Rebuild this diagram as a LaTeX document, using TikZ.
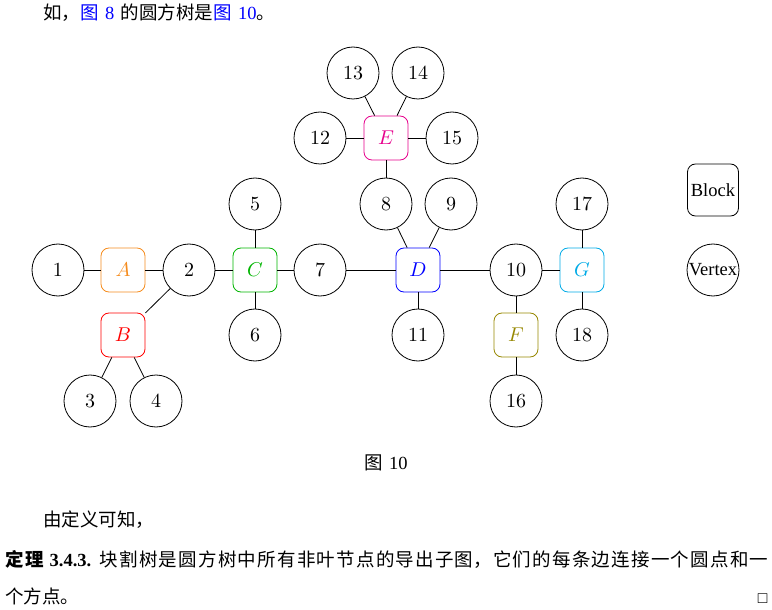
\documentclass[tikz,border=0pt]{standalone}
\usepackage{amssymb}
\usepackage{fontspec}
\usepackage{xcolor}
\newfontfamily\tms{Liberation Serif}
\newfontfamily\cjk{Noto Sans CJK SC}
\XeTeXlinebreaklocale "zh"
\XeTeXlinebreakskip=0pt plus 1pt
\definecolor{linkblue}{RGB}{0,0,255}
\definecolor{colA}{RGB}{245,140,30}
\definecolor{colB}{RGB}{255,0,0}
\definecolor{colC}{RGB}{0,180,0}
\definecolor{colD}{RGB}{0,0,255}
\definecolor{colE}{RGB}{230,0,140}
\definecolor{colF}{RGB}{150,135,0}
\definecolor{colG}{RGB}{0,170,230}

\begin{document}
\begin{tikzpicture}[x=0.5pt, y=-0.5pt,
  vtx/.style={draw, circle, minimum size=26pt, inner sep=0pt},
  blk/.style={draw, rounded corners=4pt, minimum size=22pt, inner sep=0pt},
  txt/.style={inner sep=0pt, font=\fontsize{9.25}{18.5}\selectfont}]
  \useasboundingbox (0,0) rectangle (772,610);
  \node[txt, anchor=base west] (intro) at (43,20) {{\cjk 如，}{\color{linkblue}{\cjk 图}~{\tms 8}}~{\cjk 的圆方树是}{\color{linkblue}{\cjk 图}~{\tms 10}}{\cjk 。}};
  % circle and square nodes
  \node[vtx] (v1) at (58,270) {1};
  \node[blk, draw=colA, text=colA] (A) at (123,270) {$A$};
  \node[vtx] (v2) at (189,270) {2};
  \node[blk, draw=colC, text=colC] (C) at (255,270) {$C$};
  \node[vtx] (v7) at (320,270) {7};
  \node[blk, draw=colD, text=colD] (D) at (418,270) {$D$};
  \node[vtx] (v10) at (516,270) {10};
  \node[blk, draw=colG, text=colG] (G) at (582,270) {$G$};
  \node[blk, draw=colB, text=colB] (B) at (123,335) {$B$};
  \node[vtx] (v3) at (90,401) {3};
  \node[vtx] (v4) at (156,401) {4};
  \node[vtx] (v5) at (255,204) {5};
  \node[vtx] (v6) at (255,335) {6};
  \node[vtx] (v8) at (386,204) {8};
  \node[vtx] (v9) at (451,204) {9};
  \node[vtx] (v11) at (418,335) {11};
  \node[blk, draw=colE, text=colE] (E) at (386,138) {$E$};
  \node[vtx] (v12) at (320,138) {12};
  \node[vtx] (v13) at (353,73) {13};
  \node[vtx] (v14) at (418,73) {14};
  \node[vtx] (v15) at (452,138) {15};
  \node[blk, draw=colF, text=colF] (F) at (516,335) {$F$};
  \node[vtx] (v16) at (516,401) {16};
  \node[vtx] (v17) at (582,204) {17};
  \node[vtx] (v18) at (582,335) {18};
  % legend
  \node[draw, rounded corners=4pt, minimum width=25.5pt, minimum height=26pt, txt] (block) at (713,190) {\tms Block};
  \node[vtx, txt] (vertex) at (713,270) {\tms Vertex};
  % edges
  \draw (v1) -- (A) -- (v2) -- (C) -- (v7) -- (D) -- (v10) -- (G);
  \draw (v2) -- (B);  \draw (B) -- (v3);  \draw (B) -- (v4);
  \draw (C) -- (v5);  \draw (C) -- (v6);
  \draw (D) -- (v8);  \draw (D) -- (v9);  \draw (D) -- (v11);
  \draw (v8) -- (E);  \draw (E) -- (v12);  \draw (E) -- (v13);
  \draw (E) -- (v14); \draw (E) -- (v15);
  \draw (v10) -- (F); \draw (F) -- (v16);
  \draw (G) -- (v17); \draw (G) -- (v18);
  \node[txt, anchor=base] (caption) at (386,469) {{\cjk 图}~{\tms 10}};
  \node[txt, anchor=base west] (remark) at (43,526) {\cjk 由定义可知，};
  \node[txt, anchor=base west, text width=381.5pt, align=justify] (thm) at (5,566)
    {{\cjk\bfseries 定理}{\tms\bfseries~3.4.3.}~{\cjk 块割树是圆方树中所有非叶节点的导出子图，它们的每条边连接一个圆点和一}\linebreak
     {\cjk 个方点。}\hfill$\scriptstyle\square$};
\end{tikzpicture}
\end{document}
